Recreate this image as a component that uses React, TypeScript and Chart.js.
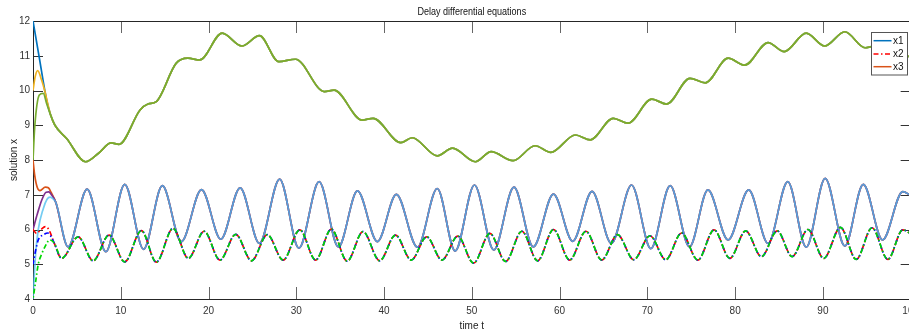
import React, { useEffect, useRef } from 'react';
import { Chart, registerables } from 'chart.js';

Chart.register(...registerables);

const FONT = "'Liberation Sans Narrow', 'Liberation Sans', Arial, sans-serif";

const xTicks = [0, 10, 20, 30, 40, 50, 60, 70, 80, 90, 100];
const yTicks = [4, 5, 6, 7, 8, 9, 10, 11, 12];
const legendLabels = ['x1', 'x2', 'x3'];

// ---- slow group (starts 12, 10, 8 then one shared curve) ----
const slowTailT = [2.5, 3.83, 6.0, 7.5, 8.9, 9.8, 12.2, 13.1, 14.05, 16.3, 17.65, 19.0, 21.55, 23.8, 25.8, 28.0, 29.9, 33.2, 34.3, 37.5, 38.75, 41.9, 43.2, 46.06, 47.8, 50.4, 52.2, 54.7, 57.2, 59.0, 61.8, 63.5, 66.1, 67.8, 70.5, 72.2, 74.85, 76.6, 79.2, 81.1, 83.75, 85.6, 88.1, 90.2, 92.5, 94.8, 97.0, 99.4, 100];
const slowTailV = [9.0, 8.62, 7.95, 8.2, 8.49, 8.45, 9.44, 9.61, 9.68, 10.78, 10.93, 10.88, 11.65, 11.28, 11.58, 10.83, 10.9, 9.97, 10.01, 9.15, 9.2, 8.5, 8.64, 8.12, 8.34, 7.95, 8.24, 7.98, 8.41, 8.22, 8.72, 8.58, 9.2, 9.06, 9.75, 9.61, 10.35, 10.22, 10.93, 10.73, 11.38, 11.12, 11.65, 11.28, 11.69, 11.23, 11.35, 10.99, 10.98];
const blueHeadT = [0, 0.7, 1.55, 2.0];
const blueHeadV = [12.0, 10.97, 9.73, 9.3];
const yellowHeadT = [0, 0.25, 0.53, 0.98, 1.36, 1.7, 2.0];
const yellowHeadV = [10.0, 10.4, 10.57, 10.3, 9.97, 9.6, 9.3];
const greenHeadT = [0, 0.2, 0.72, 1.17, 1.55, 2.0];
const greenHeadV = [8.0, 8.96, 9.87, 9.92, 9.63, 9.3];

// ---- upper oscillating group (starts 8, 6, 4) ----
const upperTailT = [2.6, 4.0, 6.17, 8.3, 10.45, 12.6, 14.74, 16.9, 19.2, 21.4, 23.6, 25.8, 28.1, 30.3, 32.6, 34.8, 36.97, 39.24, 41.4, 43.8, 46.06, 48.1, 50.3, 52.5, 54.8, 57.0, 59.3, 61.5, 63.7, 65.9, 68.2, 70.4, 72.6, 74.8, 76.9, 79.2, 81.55, 83.75, 86.0, 88.1, 90.26, 92.5, 94.6, 96.8, 99.1, 100];
const upperTailV = [6.78, 5.5, 7.16, 5.36, 7.3, 5.43, 7.26, 5.65, 7.15, 5.72, 7.2, 5.6, 7.45, 5.46, 7.375, 5.5, 7.11, 5.65, 7.01, 5.49, 7.18, 5.38, 7.28, 5.41, 7.22, 5.5, 7.02, 5.66, 7.1, 5.6, 7.28, 5.45, 7.26, 5.5, 7.14, 5.7, 7.14, 5.6, 7.375, 5.49, 7.47, 5.525, 7.3, 5.7, 7.09, 6.98];
const orangeHeadT = [0, 0.2, 0.5, 0.8, 1.4, 1.75, 2.1];
const orangeHeadV = [8.0, 7.55, 7.2, 7.12, 7.22, 7.2, 7.05];
const purpleHeadT = [0, 0.5, 1.0, 1.5, 1.8, 2.1];
const purpleHeadV = [6.0, 6.45, 6.85, 7.07, 7.08, 7.0];
const cyanHeadT = [0, 0.3, 0.6, 1.17, 1.6, 1.95, 2.3];
const cyanHeadV = [4.0, 5.3, 6.0, 6.6, 6.87, 6.93, 6.88];

// ---- lower oscillating group (starts 6, 5, 4), dash-dot ----
const lowerTailT = [2.4, 3.26, 5.15, 6.85, 8.67, 10.45, 12.35, 14.05, 15.95, 17.7, 19.5, 21.3, 23.1, 24.9, 26.7, 28.5, 30.4, 32.2, 34.0, 35.8, 37.6, 39.5, 41.3, 43.1, 44.85, 46.6, 48.4, 50.2, 52.05, 53.85, 55.7, 57.5, 59.3, 61.15, 63.0, 64.8, 66.6, 68.45, 70.3, 72.1, 73.9, 75.75, 77.6, 79.4, 81.2, 83.0, 84.8, 86.5, 88.3, 90.1, 92.0, 93.8, 95.6, 97.4, 99.1, 100];
const lowerTailV = [5.62, 5.17, 5.79, 5.1, 5.84, 5.07, 5.97, 5.06, 6.03, 5.17, 5.95, 5.12, 5.86, 5.1, 5.85, 5.12, 5.99, 5.12, 6.01, 5.09, 5.94, 5.1, 5.84, 5.12, 5.79, 5.12, 5.81, 5.03, 5.89, 5.08, 5.95, 5.1, 6.0, 5.12, 5.95, 5.12, 5.85, 5.13, 5.82, 5.13, 5.9, 5.12, 5.99, 5.17, 5.96, 5.22, 5.96, 5.22, 6.0, 5.17, 6.06, 5.14, 6.05, 5.14, 5.99, 5.88];
const redHeadT = [0, 0.4, 0.9, 1.4, 1.8];
const redHeadV = [6.0, 5.89, 6.0, 6.08, 6.0];
const dblueHeadT = [0, 0.3, 0.6, 1.2, 1.7, 2.0];
const dblueHeadV = [5.0, 5.4, 5.7, 5.85, 5.9, 5.82];
const lgreenHeadT = [0, 0.3, 0.6, 1.0, 1.4, 1.9];
const lgreenHeadV = [4.0, 4.5, 5.0, 5.3, 5.52, 5.7];

function join(ht: number[], hv: number[], tt: number[], tv: number[]) {
  const out: { x: number; y: number }[] = [];
  ht.forEach((t, i) => out.push({ x: t, y: hv[i] }));
  tt.forEach((t, i) => out.push({ x: t, y: tv[i] }));
  return out;
}

const DASHDOT = [5, 2.5, 1.5, 2.5];

const axesPlugin = {
  id: 'matlabAxes',
  beforeDatasetsDraw(chart: any) {
    const { ctx, chartArea } = chart;
    const { left, right, top, bottom } = chartArea;
    const xs = chart.scales.x;
    const ys = chart.scales.y;
    ctx.save();
    ctx.lineWidth = 1;
    ctx.strokeStyle = '#666';
    xTicks.forEach((t) => {
      const px = Math.round(xs.getPixelForValue(t)) + 0.5;
      ctx.beginPath();
      ctx.moveTo(px, bottom);
      ctx.lineTo(px, bottom - 12);
      ctx.moveTo(px, top);
      ctx.lineTo(px, top + 12);
      ctx.stroke();
    });
    ctx.strokeStyle = '#333';
    yTicks.forEach((t) => {
      const py = Math.round(ys.getPixelForValue(t)) + 0.5;
      ctx.beginPath();
      ctx.moveTo(left, py);
      ctx.lineTo(left + 10, py);
      ctx.moveTo(right, py);
      ctx.lineTo(right - 10, py);
      ctx.stroke();
    });
    ctx.strokeStyle = '#262626';
    ctx.strokeRect(Math.round(left) + 0.5, Math.round(top) + 0.5, right - left, Math.round(bottom - top));
    ctx.restore();
  },
  afterDraw(chart: any) {
    const { ctx, chartArea } = chart;
    const { left, right } = chartArea;
    ctx.save();
    // title (condensed like the original)
    ctx.fillStyle = '#111';
    ctx.font = `11px ${FONT}`;
    ctx.textAlign = 'center';
    ctx.textBaseline = 'middle';
    ctx.save();
    ctx.translate((left + right) / 2, 12);
    ctx.scale(0.82, 1);
    ctx.fillText('Delay differential equations', 0, 0);
    ctx.restore();
    // legend
    const bx = 871.5, by = 32.5, bw = 36, bh = 42.5;
    ctx.fillStyle = '#fff';
    ctx.fillRect(bx, by, bw, bh);
    ctx.strokeStyle = '#555';
    ctx.lineWidth = 1;
    ctx.strokeRect(bx, by, bw, bh);
    const ds = [chart.data.datasets[0], chart.data.datasets[6], chart.data.datasets[3]];
    const rows = [40.7, 54, 66.7];
    ds.forEach((d: any, i: number) => {
      ctx.beginPath();
      ctx.strokeStyle = d.borderColor;
      ctx.lineWidth = 1.5;
      ctx.setLineDash(d.borderDash || []);
      ctx.moveTo(873.5, rows[i]);
      ctx.lineTo(891.5, rows[i]);
      ctx.stroke();
      ctx.setLineDash([]);
      ctx.fillStyle = '#111';
      ctx.font = `10px ${FONT}`;
      ctx.textAlign = 'left';
      ctx.textBaseline = 'middle';
      ctx.fillText(legendLabels[i], 893, rows[i] + 0.5);
    });
    ctx.restore();
  },
};

export default function App() {
  const ref = useRef<HTMLCanvasElement | null>(null);
  useEffect(() => {
    document.body.style.margin = '0';
    document.body.style.overflow = 'hidden';
    if (!ref.current) return;
    const line = (label: string, data: any, color: string, order: number, dash?: number[], offset?: number) => ({
      label,
      data,
      borderColor: color,
      borderWidth: 1.7,
      borderDash: dash || [],
      borderDashOffset: offset || 0,
      pointRadius: 0,
      fill: false,
      cubicInterpolationMode: 'monotone' as const,
      order,
    });
    const chart = new Chart(ref.current, {
      type: 'line',
      data: {
        datasets: [
          line('x1', join(blueHeadT, blueHeadV, slowTailT, slowTailV), '#0072BD', 9),
          line('s2', join(yellowHeadT, yellowHeadV, slowTailT, slowTailV), '#EDB120', 8),
          line('s3', join(greenHeadT, greenHeadV, slowTailT, slowTailV), '#77AC30', 1),
          line('x3', join(orangeHeadT, orangeHeadV, upperTailT, upperTailV), '#D95319', 7),
          line('u2', join(purpleHeadT, purpleHeadV, upperTailT, upperTailV), '#7E2F8E', 6),
          line('u3', join(cyanHeadT, cyanHeadV, upperTailT, upperTailV), 'rgba(77,190,238,0.78)', 5),
          line('x2', join(redHeadT, redHeadV, lowerTailT, lowerTailV), '#FF0000', 4, DASHDOT, 0),
          line('l2', join(dblueHeadT, dblueHeadV, lowerTailT, lowerTailV), '#0000FF', 3, DASHDOT, 1),
          line('l3', join(lgreenHeadT, lgreenHeadV, lowerTailT, lowerTailV), '#00D800', 2, DASHDOT, 6),
        ],
      },
      options: {
        animation: false,
        responsive: true,
        maintainAspectRatio: false,
        layout: { padding: { left: 0, top: 21, right: 12.7, bottom: 0 } },
        plugins: { legend: { display: false }, tooltip: { enabled: false }, title: { display: false } },
        events: [],
        scales: {
          x: {
            type: 'linear',
            min: 0,
            max: 100,
            afterFit: (s: any) => { s.height = 36; },
            afterBuildTicks: (s: any) => { s.ticks = xTicks.map((v) => ({ value: v })); },
            grid: { display: false, drawTicks: false },
            border: { display: false },
            ticks: { padding: 6, color: '#333', font: { family: FONT, size: 10 }, maxRotation: 0, autoSkip: false },
            title: { display: true, text: 'time t', color: '#222', font: { family: FONT, size: 10 }, padding: { top: 0, bottom: 3 } },
          },
          y: {
            type: 'linear',
            min: 4,
            max: 12,
            afterFit: (s: any) => { s.width = 33; },
            afterBuildTicks: (s: any) => { s.ticks = yTicks.map((v) => ({ value: v })); },
            grid: { display: false, drawTicks: false },
            border: { display: false },
            ticks: { padding: 3, color: '#333', font: { family: FONT, size: 10 }, autoSkip: false },
            title: { display: true, text: 'solution x', color: '#222', font: { family: FONT, size: 10 }, padding: { top: 8, bottom: 0 } },
          },
        },
      },
      plugins: [axesPlugin],
    });
    return () => chart.destroy();
  }, []);
  return (
    <div style={{ width: 909, height: 335, overflow: 'hidden', position: 'relative' }}>
      <div style={{ width: 925, height: 335, position: 'relative' }}>
        <canvas ref={ref} />
      </div>
    </div>
  );
}
